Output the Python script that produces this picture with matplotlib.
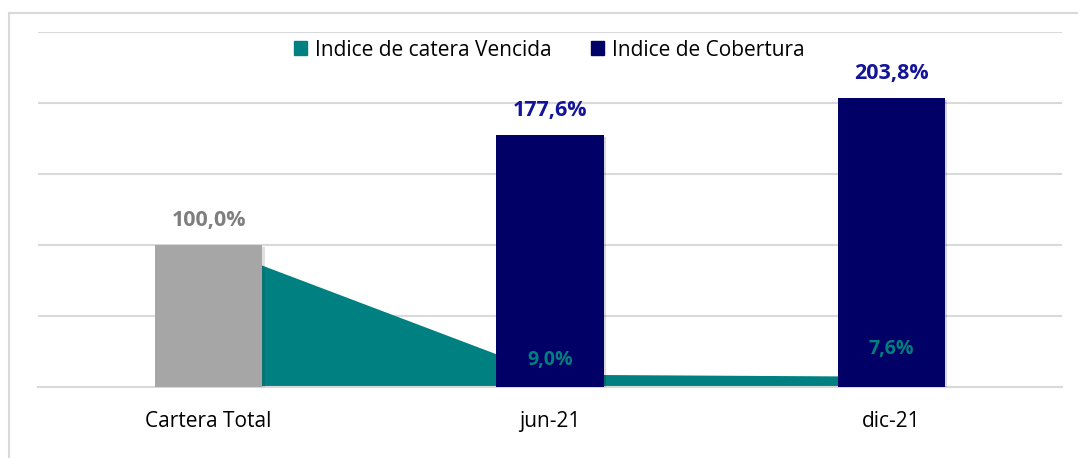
import matplotlib
matplotlib.use("Agg")
import matplotlib.pyplot as plt
from matplotlib.patches import Patch
from matplotlib.lines import Line2D
import matplotlib.patheffects as pe

categories = ["Cartera Total", "jun-21", "dic-21"]
cobertura = [100.0, 177.6, 203.8]          # bars
vencida = [100.0, 9.0, 7.6]                # area
bar_labels = ["100,0%", "177,6%", "203,8%"]
area_labels = [None, "9,0%", "7,6%"]
legend_labels = ["Indice de catera Vencida", "Indice de Cobertura"]

TEAL = "#008080"
NAVY = "#000066"
GRAY = "#A6A6A6"
plt.rcParams['font.family'] = ['Open Sans', 'DejaVu Sans']

fig = plt.figure(figsize=(10.78, 4.58), dpi=100)
ax = fig.add_axes([38/1078, 1-387/458, (1062-38)/1078, (387-32)/458])

x = list(range(len(categories)))
ax.fill_between(x, vencida, 0, color=TEAL, lw=0, zorder=2)
bar_colors = [GRAY, NAVY, NAVY]
bars = ax.bar(x, cobertura, width=0.315, color=bar_colors, zorder=3,
              path_effects=[pe.SimplePatchShadow(offset=(1.5, -1.5), alpha=0.15), pe.Normal()])

label_colors = ["#7F7F7F", "#14149A", "#14149A"]
for xi, v, t, c in zip(x, cobertura, bar_labels, label_colors):
    ax.annotate(t, (xi, v), xytext=(0, 17.5), textcoords="offset points",
                ha="center", va="center", fontsize=15.5, fontweight="bold", color=c, zorder=5)

area_offsets = [0, 10, 19.5]
for xi, v, t, o in zip(x, vencida, area_labels, area_offsets):
    if t:
        ax.annotate(t, (xi, v), xytext=(0, o), textcoords="offset points",
                    ha="center", va="center", fontsize=14, fontweight="bold", color="#007F7F", zorder=5)

ax.set_xlim(-0.5, 2.5)
ax.set_ylim(0, 250)
ax.set_yticks([0, 50, 100, 150, 200, 250])
ax.yaxis.grid(True, color="#D9D9D9", lw=1.5, zorder=0)
ax.set_axisbelow(True)
ax.tick_params(axis="y", left=False, labelleft=False)
ax.set_xticks(x)
ax.set_xticklabels(categories, fontsize=15)
ax.tick_params(axis="x", length=0, pad=17)
for s in ["top", "right", "left"]:
    ax.spines[s].set_visible(False)
ax.spines["bottom"].set_color("#D9D9D9")
ax.spines["bottom"].set_linewidth(1.5)

handles = [Patch(color=TEAL), Patch(color=NAVY)]
fig.legend(handles, legend_labels, loc="center", bbox_to_anchor=(549/1078, 1-50/458),
           ncol=2, frameon=False, fontsize=15, handlelength=0.65, handleheight=0.65,
           handletextpad=0.35, columnspacing=1.9)

# outer chart border (left and top visible)
fig.add_artist(Line2D([9/1078, 9/1078], [0, 1-13/458], transform=fig.transFigure, color="#D9D9D9", lw=1.5))
fig.add_artist(Line2D([9/1078, 1], [1-13/458, 1-13/458], transform=fig.transFigure, color="#D9D9D9", lw=1.5))

fig.savefig("out.png", dpi=100)
